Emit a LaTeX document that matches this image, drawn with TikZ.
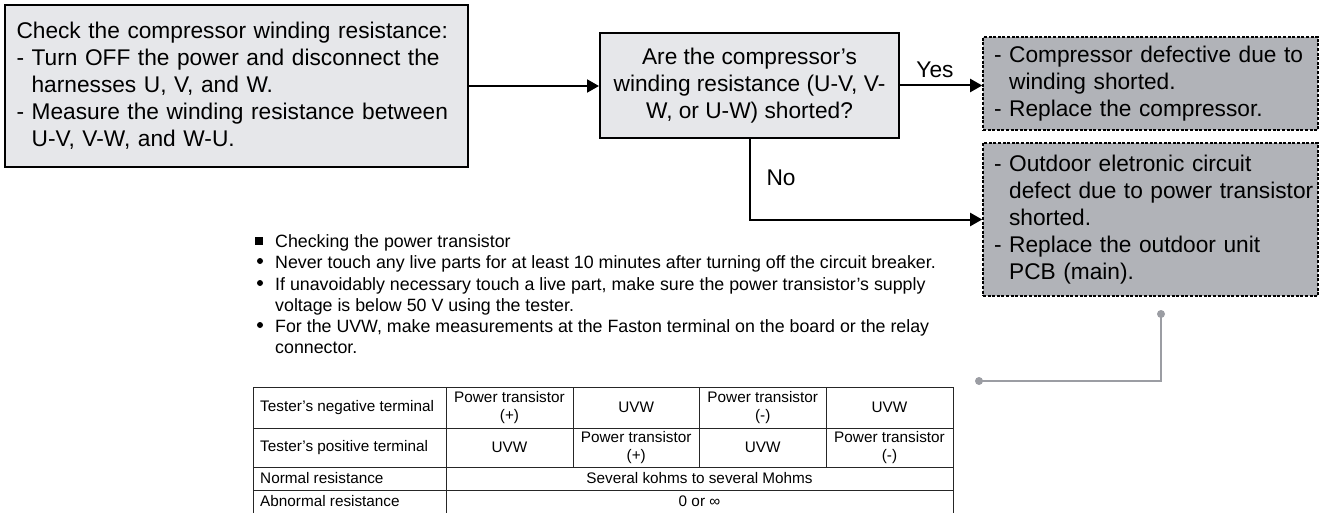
\documentclass[tikz,border=0pt]{standalone}
\usepackage{fontspec}
\setmainfont{Liberation Sans}
\usetikzlibrary{arrows.meta}
\definecolor{boxlight}{RGB}{230,231,234}
\definecolor{boxdark}{RGB}{177,179,184}
\definecolor{conngray}{RGB}{155,157,163}
\hyphenpenalty=10000
\exhyphenpenalty=10000
\begin{document}
\begin{tikzpicture}[x=1pt,y=-1pt,
  bigfont/.style={font=\fontsize{22.7pt}{27pt}\selectfont},
  procbox/.style={draw=black, line width=2pt, fill=boxlight, inner sep=0pt, bigfont},
  resbox/.style={draw=black, line width=1.6pt, dash pattern=on 3pt off 1.6pt, fill=boxdark,
    inner sep=0pt, bigfont, align=left, text width=313pt, minimum width=335pt},
  flow/.style={line width=2pt, -{Triangle[length=12pt,width=13pt]}},
  lbl/.style={inner sep=0pt, bigfont},
  bultext/.style={inner sep=0pt, anchor=base west, font=\fontsize{17.8pt}{21pt}\selectfont},
  dotbul/.style={circle, fill=black, minimum size=6pt, inner sep=0pt},
  tabline/.style={line width=1pt, draw=black!85},
  cell/.style={inner sep=0pt, align=center, font=\fontsize{15.3pt}{18pt}\selectfont},
  lcell/.style={inner sep=0pt, anchor=west, font=\fontsize{15.3pt}{18pt}\selectfont},
  conn/.style={line width=2pt, draw=conngray}]
\useasboundingbox (0,0) rectangle (1319,513);

% flow boxes
\node[procbox, minimum width=463pt, minimum height=162pt, text width=440pt, align=left] (check) at (236.5,86)
  {Check the compressor winding resistance:\\
   - Turn OFF the power and disconnect the\\
   \phantom{- }harnesses U, V, and W.\\
   - Measure the winding resistance between\\
   \phantom{- }U-V, V-W, and W-U.};
\node[procbox, minimum width=299pt, minimum height=105pt, align=center] (q) at (749.5,85.5)
  {Are the compressor’s\\winding resistance (U-V, V-\\W, or U-W) shorted?};
\node[resbox, minimum height=93pt] (yesbox) at (1150.5,83.5)
  {- Compressor defective due to\\\phantom{- }winding shorted.\\- Replace the compressor.};
\node[resbox, minimum height=153pt] (nobox) at (1150.5,219.5)
  {- Outdoor eletronic circuit\\\mbox{\phantom{- }defect due to power transistor}\\\phantom{- }shorted.\\- Replace the outdoor unit\\\phantom{- }PCB (main).};

\draw[flow] (check.east) -- (check.east -| q.west);
\draw[flow] (q.east) -- (q.east -| yesbox.west);
\draw[flow] (q.south) |- (nobox.west);
\node[lbl] (yes) at (935,70) {Yes};
\node[lbl] (no) at (781,178) {No};

% gray connector
\coordinate (g1) at (1161,314);
\coordinate (g2) at (979,381);
\draw[conn] (g1) |- (g2);
\fill[conngray] (g1) circle[radius=4pt];
\fill[conngray] (g2) circle[radius=4pt];

% bullet notes
\node[fill=black, minimum size=8pt, inner sep=0pt] (sq) at (259,241) {};
\node[bultext] (t0) at (275,247.5) {Checking the power transistor};
\node[dotbul] (d1) at (260,261) {};
\node[bultext] (t1) at (275,268.5) {Never touch any live parts for at least 10 minutes after turning off the circuit breaker.};
\node[dotbul] (d2) at (260,283) {};
\node[bultext] (t2) at (275,290) {If unavoidably necessary touch a live part, make sure the power transistor’s supply};
\node[bultext] (t2b) at (275,311) {voltage is below 50 V using the tester.};
\node[dotbul] (d3) at (260,325) {};
\node[bultext] (t3) at (275,332.5) {For the UVW, make measurements at the Faston terminal on the board or the relay};
\node[bultext] (t3b) at (275,353) {connector.};

% table grid
\draw[tabline] (253,387) rectangle (953,520);
\draw[tabline] (253,428) -- (953,428);
\draw[tabline] (253,467) -- (953,467);
\draw[tabline] (253,490) -- (953,490);
\draw[tabline] (446,387) -- (446,520);
\draw[tabline] (573,387) -- (573,467);
\draw[tabline] (699.5,387) -- (699.5,467);
\draw[tabline] (826,387) -- (826,467);

% table text
\node[lcell] (r1c1) at (260,407.5) {Tester’s negative terminal};
\node[cell] (r1c2) at (509.5,407.5) {Power transistor\\(+)};
\node[cell] (r1c3) at (636.25,407.5) {UVW};
\node[cell] (r1c4) at (762.75,407.5) {Power transistor\\(-)};
\node[cell] (r1c5) at (889.5,407.5) {UVW};
\node[lcell] (r2c1) at (260,447.5) {Tester’s positive terminal};
\node[cell] (r2c2) at (509.5,447.5) {UVW};
\node[cell] (r2c3) at (636.25,447.5) {Power transistor\\(+)};
\node[cell] (r2c4) at (762.75,447.5) {UVW};
\node[cell] (r2c5) at (889.5,447.5) {Power transistor\\(-)};
\node[lcell] (r3c1) at (260,478.5) {Normal resistance};
\node[cell] (r3c2) at (699.5,478.5) {Several kohms to several Mohms};
\node[lcell] (r4c1) at (260,501.5) {Abnormal resistance};
\node[cell] (r4c2) at (699.5,501.5) {0 or ∞};
\end{tikzpicture}
\end{document}
